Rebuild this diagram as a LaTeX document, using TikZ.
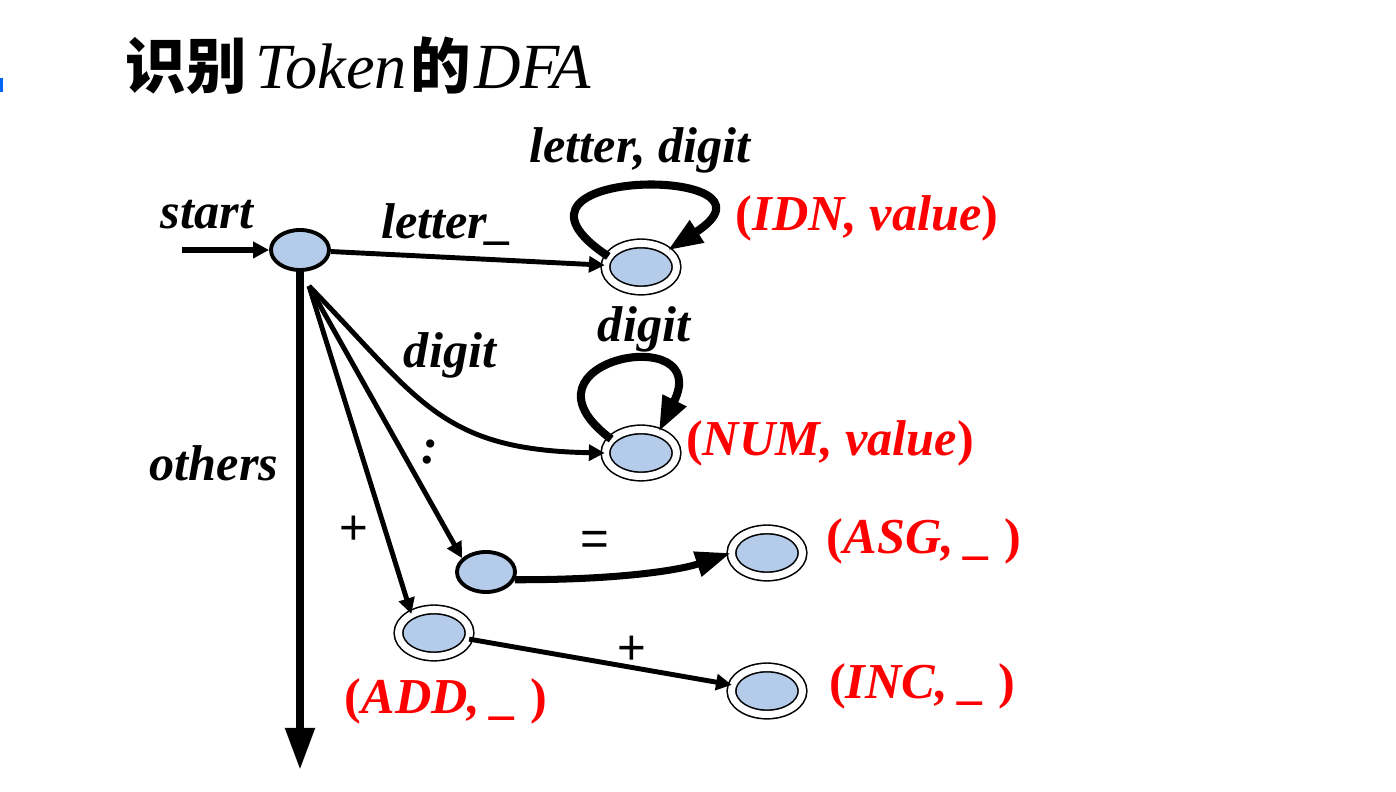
\documentclass[tikz,border=0pt]{standalone}
\usepackage{fontspec}
\setmainfont{Liberation Serif}
\newfontfamily\cjk{Noto Sans CJK SC}
\newfontfamily\sansf{Liberation Sans}
\usepackage{tikz}
\usetikzlibrary{arrows.meta,shapes.geometric,positioning}
\definecolor{stateblue}{RGB}{180,204,234}
\colorlet{tokred}{red}
\newcommand{\lblfont}{\fontsize{14.3}{17}\selectfont\bfseries\itshape}
\newcommand{\titlelatin}[1]{{\fontsize{18.3}{20}\selectfont\itshape #1}}

\begin{document}
\begin{tikzpicture}[x=0.01cm,y=-0.01cm,>={Triangle[length=4.5pt,width=4.5pt]},
  state/.style={ellipse,draw,fill=stateblue,line width=1.1pt,minimum width=0.58cm,minimum height=0.40cm,inner sep=0pt},
  accept/.style={ellipse,draw,fill=stateblue,line width=0.45pt,double,double distance=2pt,minimum width=0.71cm,minimum height=0.47cm,inner sep=0pt},
  lbl/.style={font=\lblfont,inner sep=0pt},
  tok/.style={font=\lblfont,text=tokred,inner sep=0pt},
  sym/.style={font=\sansf\fontsize{14}{17}\selectfont,inner sep=0pt},
  trans/.style={->,line width=1.4pt},
  loopy/.style={-{Triangle[length=10pt,width=7pt]},line width=2.3pt}]
\useasboundingbox (0,0) rectangle (1396,792);
\fill[blue!60!cyan] (0,78) rectangle (3,92);
% title
\node[anchor=west,inner sep=0pt] (title) at (125,66)
  {\fontsize{17.2}{20}\selectfont{\cjk\bfseries 识别}\hspace{2.5pt}\titlelatin{Token}\hspace{1pt}{\cjk\bfseries 的}\hspace{1pt}\titlelatin{DFA}};
% states
\node[state] (s0) at (300,250) {};
\node[accept] (idn) at (641,267) {};
\node[accept] (num) at (641,453) {};
\node[state] (col) at (486,572) {};
\node[accept] (asg) at (767,553) {};
\node[accept] (add) at (434,633) {};
\node[accept] (inc) at (767,691) {};
\coordinate (in) at (182,250);
\coordinate (fan) at (309,286);
\coordinate (oend) at (300,770);
% transitions
\draw[trans,line width=1.5pt] (in) -- (s0);
\draw[trans] (s0) -- (idn);
\draw[loopy] (idn.162) .. controls (470,165) and (800,165) .. (idn.32);
\draw[loopy] (num.155) .. controls (505,360) and (715,320) .. (num.50);
\draw[trans] (fan) .. controls (420,400) and (440,450) .. (num.west);
\draw[trans] (fan) -- (col.150);
\draw[trans] (fan) -- (add.140);
\draw[-{Triangle[length=12pt,width=8pt]},line width=2.3pt] (s0) -- (oend);
\draw[-{Triangle[length=10pt,width=7pt]},line width=2pt] (col.-15) .. controls (620,580) and (680,570) .. (asg.west);
\draw[trans] (add) -- (inc);
% labels
\node[lbl] (lstart) at (207,215) {start};
\node[lbl] (lletter) at (447,225) {letter\_};
\node[lbl] (lloop1) at (640,150) {letter, digit};
\node[lbl] (lloop2) at (644,329) {digit};
\node[lbl] (ldigit) at (450,355) {digit};
\node[lbl] (lothers) at (214,463) {others};
\node[lbl] (lcolon) at (430,452) {:};
\node[sym] (lplus1) at (354,530) {+};
\node[sym] (leq) at (595,543) {=};
\node[sym] (lplus2) at (632,650) {+};
% tokens
\node[tok] (tidn) at (867,218) {{\upshape(}IDN, value{\upshape)}};
\node[tok] (tnum) at (830,443) {{\upshape(}NUM, value{\upshape)}};
\node[tok] (tasg) at (924,541) {{\upshape(}ASG, \_ {\upshape)}};
\node[tok] (tadd) at (446,701) {{\upshape(}ADD, \_ {\upshape)}};
\node[tok] (tinc) at (922,686) {{\upshape(}INC, \_ {\upshape)}};
\end{tikzpicture}
\end{document}
